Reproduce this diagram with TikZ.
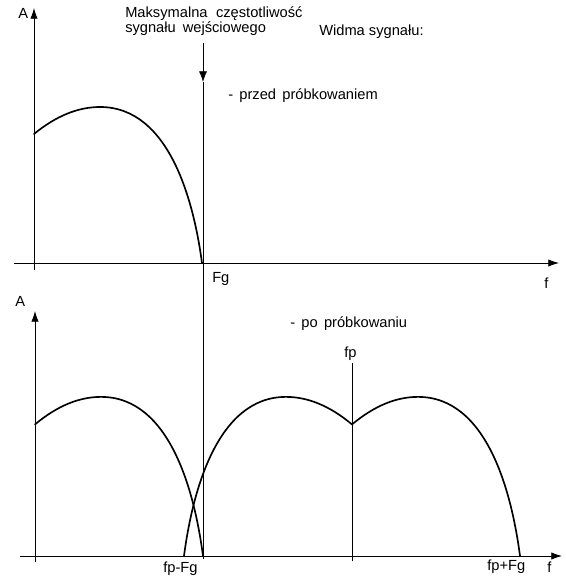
\documentclass[tikz,border=0pt]{standalone}
\usepackage{fontspec}
\setmainfont{Liberation Sans}
\usetikzlibrary{arrows.meta}
\newcommand{\lobeshape}{(0,-129) .. controls (22,-147) and (44,-156) .. (66,-156) .. controls (136,-156) and (160,-60) .. (168,0)}
\begin{document}
\begin{tikzpicture}[x=0.75pt,y=-0.75pt,
  axis/.style={line width=0.6pt,-{Latex[length=8pt,width=5.5pt]}},
  guide/.style={line width=0.5pt},
  spectrum/.style={line width=1.25pt,line join=round,line cap=round},
  lbl/.style={inner sep=0pt,font=\fontsize{11pt}{13pt}\selectfont,anchor=base west}]
\useasboundingbox (0,0) rectangle (565,577);

% ---------- top panel ----------
\coordinate (t0) at (14,263);
\coordinate (t1) at (559,263);
\coordinate (ty0) at (34,270);
\coordinate (ty1) at (34,8);
\draw[axis] (t0) -- (t1);
\draw[axis] (ty0) -- (ty1);

\coordinate (Ftop) at (203,43);
\coordinate (Farr) at (203,82);
\coordinate (Fbot) at (203,559);
\draw[guide,-{Latex[length=8pt,width=6pt]}] (Ftop) -- (Farr);
\draw[guide] (Farr) -- (Fbot);

\begin{scope}[shift={(34,263)}]
  \draw[spectrum] \lobeshape;
\end{scope}

\node[lbl] (A1) at (18,19) {A};
\node[lbl] (max1) at (125,18) {Maksymalna\hspace{0.3em} częstotliwość};
\node[lbl] (max2) at (125,33) {sygnału\hspace{0.2em} wejściowego};
\node[lbl] (widma) at (319,36) {Widma sygnału:};
\node[lbl] (przed) at (228,100) {-\hspace{0.15em} przed\hspace{0.15em} próbkowaniem};
\node[lbl] (Fg) at (212,282) {Fg};
\node[lbl] (f1) at (544,288) {f};

% ---------- bottom panel ----------
\coordinate (b0) at (20,556);
\coordinate (b1) at (562,556);
\coordinate (by0) at (35,562);
\coordinate (by1) at (35,311);
\draw[axis] (b0) -- (b1);
\draw[axis] (by0) -- (by1);

\coordinate (fptop) at (352,363);
\coordinate (fpbot) at (352,561);
\draw[guide] (fptop) -- (fpbot);

\begin{scope}[shift={(35,556)},yscale=1.02]
  \draw[spectrum] \lobeshape;
\end{scope}
\begin{scope}[shift={(352,556)},xscale=-1,yscale=1.02]
  \draw[spectrum] \lobeshape;
\end{scope}
\begin{scope}[shift={(352,556)},yscale=1.02]
  \draw[spectrum] \lobeshape;
\end{scope}

\node[lbl] (A2) at (15,306) {A};
\node[lbl] (po) at (290,327) {-\hspace{0.15em} po\hspace{0.15em} próbkowaniu};
\node[lbl] (fp) at (344,357) {fp};
\node[lbl] (fpm) at (163,572) {fp-Fg};
\node[lbl] (fpp) at (487,570) {fp+Fg};
\node[lbl] (f2) at (547,572) {f};
\end{tikzpicture}
\end{document}
